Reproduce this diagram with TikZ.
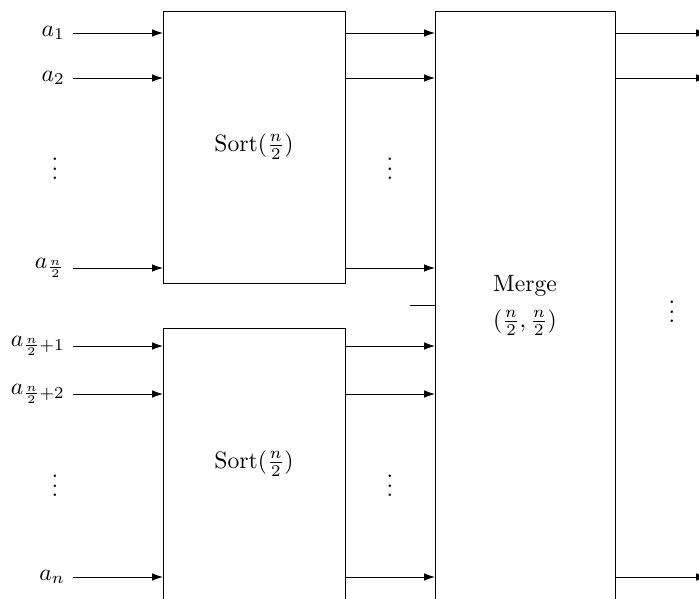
\documentclass[tikz,border=0pt]{standalone}
\usetikzlibrary{arrows.meta}
\begin{document}
\def\u{0.423pt}
\begin{tikzpicture}[x=\u,y=-\u,
  >={Latex[length=4.6pt,width=3.2pt]},
  box/.style={draw, line width=0.38pt, inner sep=0pt, outer sep=0pt, align=center},
  sortbox/.style={box, minimum width=182*\u, minimum height=272*\u},
  mergebox/.style={box, minimum width=180*\u, minimum height=589*\u},
  conn/.style={->, line width=0.38pt},
  lbl/.style={anchor=east}]
\useasboundingbox (0,0) rectangle (699,599);
\clip (0,0) rectangle (699,599);

\node[sortbox] (sort1) at (254,147) {\raisebox{4pt}{Sort($\frac{n}{2}$)}};
\node[sortbox] (sort2) at (254,464) {\raisebox{4pt}{Sort($\frac{n}{2}$)}};
\node[mergebox] (merge) at (525,305.5) {Merge\\[3pt]$(\frac{n}{2},\frac{n}{2})$};

\coordinate (in1) at (73,33);
\coordinate (in2) at (73,78);
\coordinate (in3) at (73,268);
\coordinate (in4) at (73,346);
\coordinate (in5) at (73,394);
\coordinate (in6) at (73,577);

\node[lbl] (l1) at (in1) {$a_1$};
\node[lbl] (l2) at (in2) {$a_2$};
\node[lbl] (l3) at (in3) {$a_{\frac{n}{2}}$};
\node[lbl] (l4) at (in4) {$a_{\frac{n}{2}+1}$};
\node[lbl] (l5) at (in5) {$a_{\frac{n}{2}+2}$};
\node[lbl] (l6) at (in6) {$a_n$};

\foreach \i in {1,2,3} {
  \draw[conn] (in\i) -- (sort1.west |- in\i);
  \draw[conn] (sort1.east |- in\i) -- (merge.west |- in\i);
}
\foreach \i in {4,5,6} {
  \draw[conn] (in\i) -- (sort2.west |- in\i);
  \draw[conn] (sort2.east |- in\i) -- (merge.west |- in\i);
}

\coordinate (out1) at (707,33);
\coordinate (out2) at (707,78);
\coordinate (out6) at (707,577);
\draw[conn] (merge.east |- out1) -- (out1);
\draw[conn] (merge.east |- out2) -- (out2);
\draw[conn] (merge.east |- out6) -- (out6);

\coordinate (tick) at (410,305.5);
\draw[line width=0.38pt] (merge.west) -- (tick);

\node (d1) at (55,162) {$\vdots$};
\node (d2) at (390,162) {$\vdots$};
\node (d3) at (55,479) {$\vdots$};
\node (d4) at (390,479) {$\vdots$};
\node (d5) at (672,305) {$\vdots$};
\end{tikzpicture}
\end{document}
